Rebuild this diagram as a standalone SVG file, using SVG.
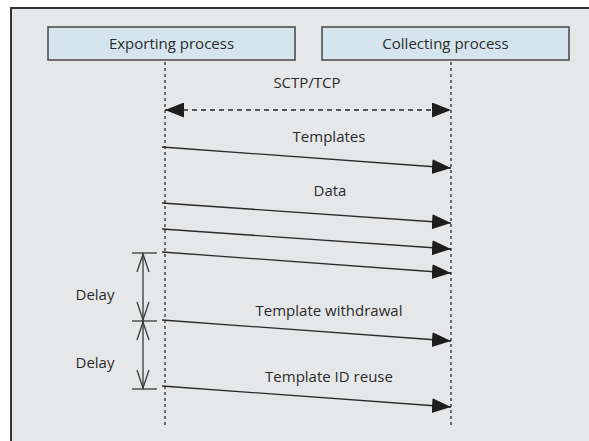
<svg xmlns="http://www.w3.org/2000/svg" width="589" height="441" viewBox="0 0 589 441">
  <style>
    .lbl { font-family: "Open Sans", "Liberation Sans", Arial, sans-serif; font-size: 15px; fill: #2b2b2b; text-anchor: middle; }
    .box { fill: #d5e5ee; stroke: #505050; stroke-width: 1.6; }
    .life { stroke: #444; stroke-width: 1.5; stroke-dasharray: 3 3; fill: none; }
    .msg { stroke: #2a2a2a; stroke-width: 1.3; fill: none; }
    .dim { stroke: #3a3a3a; stroke-width: 1.3; fill: none; }
  </style>
  <defs>
    <marker id="head" markerUnits="userSpaceOnUse" markerWidth="20" markerHeight="16" refX="19" refY="7.5" orient="auto">
      <path d="M0,0 L19,7.5 L0,15 Z" fill="#1f1c1d"/>
    </marker>
    <marker id="headStart" markerUnits="userSpaceOnUse" markerWidth="20" markerHeight="16" refX="0" refY="7.5" orient="auto">
      <path d="M19,0 L0,7.5 L19,15 Z" fill="#1f1c1d"/>
    </marker>
  </defs>

  <!-- page frame -->
  <rect x="0" y="0" width="589" height="441" fill="#ffffff"/>
  <rect x="11" y="8" width="590" height="440" fill="#e6e7e8" stroke="#333" stroke-width="2"/>

  <g id="exporting-process">
    <rect class="box" x="48" y="27" width="247" height="33"/>
    <text class="lbl" x="171.5" y="49">Exporting process</text>
  </g>
  <g id="collecting-process">
    <rect class="box" x="322" y="27" width="247" height="33"/>
    <text class="lbl" x="445.5" y="49">Collecting process</text>
  </g>

  <g id="lifelines">
    <line class="life" x1="165" y1="62" x2="165" y2="428"/>
    <line class="life" x1="451" y1="62" x2="451" y2="428"/>
  </g>

  <g id="connectors">
    <!-- transport session -->
    <line x1="165" y1="110" x2="451" y2="110" stroke="#2a2a2a" stroke-width="1.5" stroke-dasharray="5 4" marker-start="url(#headStart)" marker-end="url(#head)"/>
    <!-- messages -->
    <line class="msg" x1="162" y1="147" x2="451" y2="168" marker-end="url(#head)"/>
    <line class="msg" x1="162" y1="203" x2="451" y2="223" marker-end="url(#head)"/>
    <line class="msg" x1="162" y1="229" x2="451" y2="249" marker-end="url(#head)"/>
    <line class="msg" x1="162" y1="252" x2="451" y2="273" marker-end="url(#head)"/>
    <line class="msg" x1="162" y1="320" x2="451" y2="341" marker-end="url(#head)"/>
    <line class="msg" x1="162" y1="386" x2="451" y2="407" marker-end="url(#head)"/>
  </g>

  <g id="message-labels">
    <text class="lbl" x="307" y="88">SCTP/TCP</text>
    <text class="lbl" x="329" y="142">Templates</text>
    <text class="lbl" x="330" y="196">Data</text>
    <text class="lbl" x="329" y="316">Template withdrawal</text>
    <text class="lbl" x="329" y="382">Template ID reuse</text>
  </g>

  <g id="delay-brackets">
    <line class="dim" x1="132" y1="253" x2="157" y2="253"/>
    <line class="dim" x1="132" y1="321" x2="157" y2="321"/>
    <line class="dim" x1="132" y1="389" x2="157" y2="389"/>
    <line class="dim" x1="143" y1="253" x2="143" y2="389"/>
    <!-- open arrowheads -->
    <path class="dim" d="M137,272 L143,254 L149,272"/>
    <path class="dim" d="M137,302 L143,320 L149,302"/>
    <path class="dim" d="M137,340 L143,322 L149,340"/>
    <path class="dim" d="M137,370 L143,388 L149,370"/>
    <text class="lbl" x="95" y="300">Delay</text>
    <text class="lbl" x="95" y="368">Delay</text>
  </g>
</svg>
